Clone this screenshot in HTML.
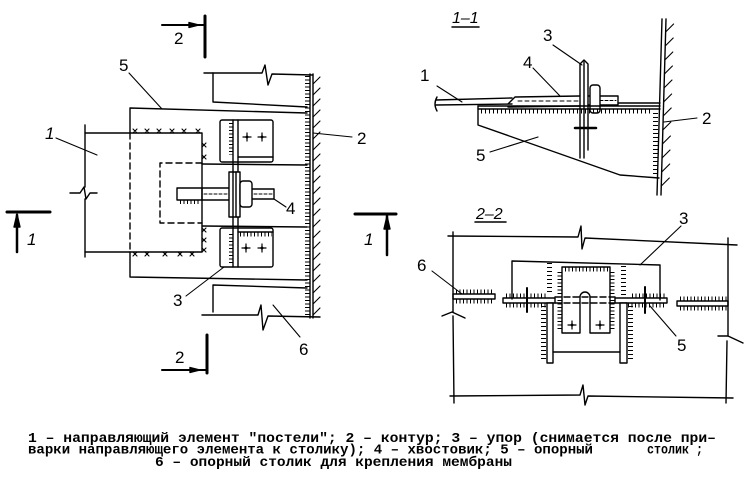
<!DOCTYPE html>
<html><head><meta charset="utf-8"><style>
html,body{margin:0;padding:0;background:#fff}
svg{display:block}
text{font-family:"Liberation Sans",sans-serif;fill:#000;stroke:none}
.t{font-family:"Liberation Mono","DejaVu Sans Mono",monospace;font-weight:bold;font-size:13.5px}
.n{font-size:17px}
</style></head><body>
<svg width="750" height="477" viewBox="0 0 750 477" xmlns="http://www.w3.org/2000/svg">
<g fill="none" stroke="#000" stroke-width="1.4" stroke-linecap="round" stroke-linejoin="round">

<!-- ========== LEFT PLAN VIEW ========== -->
<line x1="162" y1="25" x2="205" y2="25" stroke-width="2"/>
<polygon points="189,22.5 199,25 189,27.5" fill="#000"/>
<line x1="205" y1="16" x2="205" y2="57" stroke-width="3"/>
<polyline points="204,73 262,73 265,65 268,85 272,74 313,75"/>
<polyline points="213,73 213,102 307,107"/>
<line x1="310" y1="74" x2="310" y2="318"/>
<line x1="313" y1="74" x2="313" y2="318"/>
<path d="M313,84 l7,-7 M313,95 l7,-7 M313,106 l7,-7 M313,117 l7,-7 M313,128 l7,-7 M313,139 l7,-7 M313,150 l7,-7 M313,161 l7,-7 M313,172 l7,-7 M313,183 l7,-7 M313,194 l7,-7 M313,205 l7,-7 M313,216 l7,-7 M313,227 l7,-7 M313,238 l7,-7 M313,249 l7,-7 M313,260 l7,-7 M313,271 l7,-7 M313,282 l7,-7 M313,293 l7,-7 M313,304 l7,-7 M313,315 l7,-7" stroke-width="1.1"/>
<line x1="307.5" y1="76" x2="307.5" y2="315" stroke-width="5" stroke-dasharray="1 2.5" stroke-linecap="butt"/>
<polyline points="307,113 130,108 130,133"/>
<line x1="130" y1="133" x2="130" y2="252" stroke-dasharray="6 4"/>
<polyline points="130,252 130,277 307,280"/>
<line x1="85" y1="125" x2="85" y2="187"/>
<line x1="85" y1="199" x2="85" y2="257"/>
<polyline points="70,193 80,193 84,187 86,199 90,193 97,193"/>
<polyline points="85,133 202,133 202,252 85,252"/>
<polyline points="202,163 160,163 160,223 202,223" stroke-dasharray="6 4"/>
<line x1="202" y1="164" x2="307" y2="165"/>
<line x1="202" y1="226" x2="307" y2="227"/>
<g stroke-width="1.1">
<path d="M133,129 l4,4 m0,-4 l-4,4 M145,129 l4,4 m0,-4 l-4,4 M157,129 l4,4 m0,-4 l-4,4 M170,129 l4,4 m0,-4 l-4,4 M182,129 l4,4 m0,-4 l-4,4 M196,129 l4,4 m0,-4 l-4,4"/>
<path d="M202,143 l4,4 m0,-4 l-4,4 M202,155 l4,4 m0,-4 l-4,4"/>
<path d="M202,228 l4,4 m0,-4 l-4,4 M202,238 l4,4 m0,-4 l-4,4 M202,248 l4,4 m0,-4 l-4,4"/>
<path d="M133,252 l4,4 m0,-4 l-4,4 M145,252 l4,4 m0,-4 l-4,4 M163,252 l4,4 m0,-4 l-4,4 M178,252 l4,4 m0,-4 l-4,4 M190,252 l4,4 m0,-4 l-4,4"/>
</g>
<rect x="220" y="120" width="53" height="42" rx="2"/>
<line x1="238" y1="157" x2="273" y2="157"/>
<rect x="220" y="228" width="53" height="39" rx="2"/>
<line x1="238" y1="232" x2="273" y2="232"/>
<line x1="233" y1="120" x2="233" y2="267"/>
<line x1="238" y1="120" x2="238" y2="267"/>
<g stroke-width="4" stroke-dasharray="1 2.5" stroke-linecap="butt">
<line x1="231" y1="123" x2="231" y2="155"/>
<line x1="231" y1="234" x2="231" y2="263"/>
<line x1="240" y1="234.5" x2="272" y2="234.5"/>
<line x1="180" y1="202" x2="201" y2="202"/>
</g>
<g stroke-width="1.2">
<path d="M243,137 h8 M247,133 v8 M258,137 h8 M262,133 v8 M242,248 h8 M246,244 v8 M258,248 h8 M262,244 v8"/>
</g>
<g fill="#000" stroke="none">
<polygon points="247,135 249,137 247,139 245,137"/><polygon points="262,135 264,137 262,139 260,137"/>
<polygon points="246,246 248,248 246,250 244,248"/><polygon points="262,246 264,248 262,250 260,248"/>
</g>
<polyline points="230,188 177,188 177,200 230,200"/>
<polyline points="252,189 274,189 274,199 252,199"/>
<line x1="204" y1="194" x2="229" y2="194" stroke-dasharray="3 2" stroke-width="1"/>
<line x1="254" y1="194" x2="272" y2="194" stroke-dasharray="3 2" stroke-width="1"/>
<line x1="202" y1="188" x2="202" y2="200"/>
<rect x="229" y="172" width="11" height="45" fill="#fff"/>
<line x1="233" y1="172" x2="233" y2="217"/>
<line x1="236" y1="172" x2="236" y2="217"/>
<rect x="240" y="181" width="12" height="26" rx="3" fill="#fff"/>
<polyline points="307,288 213,285 213,312"/>
<polyline points="202,315 258,315 261,305 263,330 268,316 320,317"/>
<line x1="129" y1="73" x2="162" y2="109" stroke-width="1.1"/>
<line x1="56" y1="138" x2="97" y2="155" stroke-width="1.1"/>
<line x1="274" y1="199" x2="286" y2="207" stroke-width="1.1"/>
<line x1="313" y1="133" x2="352" y2="137" stroke-width="1.1"/>
<line x1="186" y1="296" x2="224" y2="267" stroke-width="1.1"/>
<line x1="273" y1="305" x2="300" y2="337" stroke-width="1.1"/>
<line x1="207" y1="335" x2="207" y2="373" stroke-width="3"/>
<line x1="162" y1="370" x2="207" y2="370" stroke-width="2"/>
<polygon points="190,367.5 200,370 190,372.5" fill="#000"/>
<line x1="7" y1="212" x2="50" y2="212" stroke-width="3"/>
<line x1="17" y1="215" x2="17" y2="252" stroke-width="2.5"/>
<polygon points="14,227 17,214 20,227" fill="#000"/>
<line x1="355" y1="214" x2="396" y2="214" stroke-width="3"/>
<line x1="387" y1="216" x2="387" y2="255" stroke-width="2.5"/>
<polygon points="384,229 387,216 390,229" fill="#000"/>

<!-- ========== SECTION 1-1 ========== -->
<line x1="452" y1="27" x2="479" y2="27" stroke-width="1.5"/>
<line x1="662" y1="19" x2="657" y2="195"/>
<line x1="666" y1="19" x2="661" y2="195"/>
<path d="M665.6,32 l8,-8 M665.2,46 l8,-8 M664.8,60 l8,-8 M664.4,74 l8,-8 M664,88 l8,-8 M663.6,102 l8,-8 M663.2,116 l8,-8 M662.8,130 l8,-8 M662.4,144 l8,-8 M662,158 l8,-8 M661.7,172 l8,-8 M661.3,186 l8,-8" stroke-width="1.1"/>
<line x1="436" y1="100" x2="512" y2="98"/>
<line x1="436" y1="105" x2="512" y2="104"/>
<path d="M437,97 Q433,104 437,111"/>
<polyline points="508,104 515,97 580,96"/>
<line x1="508" y1="107" x2="580" y2="106"/>
<line x1="518" y1="101" x2="578" y2="101" stroke-dasharray="4 3" stroke-width="1"/>
<polyline points="588,96 618,96 618,105 588,105"/>
<line x1="600" y1="100.5" x2="616" y2="100.5" stroke-dasharray="3 2" stroke-width="1"/>
<line x1="618" y1="103" x2="660" y2="103"/>
<path d="M580,158 V64 L584,60 L588,64 V150"/>
<line x1="584" y1="62" x2="584" y2="158"/>
<line x1="575" y1="128" x2="596" y2="128" stroke-width="2.5"/>
<rect x="590" y="85" width="10" height="28" rx="3" fill="#fff"/>
<line x1="478" y1="106" x2="660" y2="106"/>
<line x1="478" y1="109" x2="660" y2="109"/>
<line x1="481" y1="111.5" x2="652" y2="111.5" stroke-width="4" stroke-dasharray="1 3" stroke-linecap="butt"/>
<polyline points="478,106 478,125 620,175 659,178"/>
<line x1="655.5" y1="113" x2="655.5" y2="177" stroke-width="5" stroke-dasharray="1 3" stroke-linecap="butt"/>
<line x1="553" y1="45" x2="582" y2="65" stroke-width="1.1"/>
<line x1="533" y1="68" x2="560" y2="96" stroke-width="1.1"/>
<line x1="437" y1="86" x2="462" y2="102" stroke-width="1.1"/>
<line x1="664" y1="122" x2="697" y2="118" stroke-width="1.1"/>
<line x1="490" y1="152" x2="538" y2="137" stroke-width="1.1"/>

<!-- ========== SECTION 2-2 ========== -->
<line x1="475" y1="222" x2="506" y2="222" stroke-width="1.5"/>
<polyline points="448,236 578,237 581,226 582,249 585,238 737,245"/>
<line x1="453" y1="232" x2="453" y2="312"/>
<polyline points="442,316 452,312 465,318"/>
<line x1="453" y1="316" x2="454" y2="403"/>
<line x1="728" y1="238" x2="728" y2="336"/>
<polyline points="718,336 728,336 743,343"/>
<line x1="727" y1="341" x2="726" y2="403"/>
<polyline points="450,396 580,395 583,385 585,405 588,396 733,398"/>
<path d="M512,299 V261 L660,265 V300"/>
<path d="M562,267 V333 H580 V297 A5,5 0 0 1 590,297 V333 H610 V267 Z"/>
<g stroke-width="4" stroke-dasharray="1 2.5" stroke-linecap="butt">
<line x1="565" y1="269.5" x2="608" y2="269.5"/>
<line x1="559.5" y1="272" x2="559.5" y2="330"/>
<line x1="612.5" y1="272" x2="612.5" y2="330"/>
</g>
<g stroke-width="5" stroke-dasharray="1 3" stroke-linecap="butt">
<line x1="549.5" y1="263" x2="549.5" y2="295"/>
<line x1="623.5" y1="266" x2="623.5" y2="295"/>
<line x1="543.5" y1="306" x2="543.5" y2="361"/>
<line x1="630.5" y1="306" x2="630.5" y2="361"/>
</g>
<path d="M568,325 h8 M572,321 v8 M596,325 h8 M600,321 v8" stroke-width="1.2"/>
<g fill="#000" stroke="none">
<polygon points="572,323 574,325 572,327 570,325"/><polygon points="600,323 602,325 600,327 598,325"/>
</g>
<rect x="503" y="298" width="52" height="5"/>
<rect x="615" y="298" width="52" height="5"/>
<line x1="555" y1="297" x2="615" y2="297" stroke-dasharray="6 3"/>
<line x1="555" y1="303" x2="615" y2="303" stroke-dasharray="6 3"/>
<g stroke-width="4" stroke-dasharray="1 2.5" stroke-linecap="butt">
<line x1="506" y1="305.5" x2="546" y2="305.5"/>
<line x1="506" y1="295.5" x2="546" y2="295.5"/>
<line x1="628" y1="305.5" x2="665" y2="305.5"/>
<line x1="632" y1="295.5" x2="665" y2="295.5"/>
<line x1="456" y1="291.5" x2="494" y2="291.5"/>
<line x1="456" y1="301.5" x2="494" y2="301.5"/>
<line x1="680" y1="298.5" x2="727" y2="298.5"/>
<line x1="680" y1="308.5" x2="727" y2="308.5"/>
</g>
<line x1="527" y1="288" x2="527" y2="312" stroke-width="2"/>
<line x1="645" y1="287" x2="645" y2="313" stroke-width="2"/>
<rect x="547" y="303" width="6" height="60" fill="#fff"/>
<rect x="620" y="303" width="7" height="60" fill="#fff"/>
<line x1="553" y1="352" x2="620" y2="352"/>
<rect x="453" y="294" width="42" height="5"/>
<rect x="677" y="301" width="51" height="5"/>
<line x1="432" y1="271" x2="462" y2="294" stroke-width="1.1"/>
<line x1="681" y1="226" x2="640" y2="265" stroke-width="1.1"/>
<line x1="676" y1="336" x2="650" y2="306" stroke-width="1.1"/>
</g>

<!-- ========== LABELS ========== -->
<text class="n" x="174" y="44">2</text>
<text class="n" x="119" y="71">5</text>
<text class="n" x="45" y="139" font-style="italic">1</text>
<text class="n" x="286" y="214">4</text>
<text class="n" x="357" y="144">2</text>
<text class="n" x="173" y="306">3</text>
<text class="n" x="299" y="355">6</text>
<text class="n" x="175" y="363">2</text>
<text class="n" x="27" y="245" font-style="italic">1</text>
<text class="n" x="364" y="245" font-style="italic">1</text>

<text x="452" y="23" font-size="16" font-style="italic">1–1</text>
<text class="n" x="543" y="41">3</text>
<text class="n" x="523" y="68">4</text>
<text class="n" x="420" y="81">1</text>
<text class="n" x="702" y="124">2</text>
<text class="n" x="476" y="161">5</text>

<text x="476" y="219" font-size="16" font-style="italic">2–2</text>
<text class="n" x="417" y="271">6</text>
<text class="n" x="679" y="224">3</text>
<text class="n" x="677" y="351">5</text>

<text class="t" x="28" y="442" textLength="688" lengthAdjust="spacingAndGlyphs">1 – направляющий элемент "постели"; 2 – контур; 3 – упор (снимается после при–</text>
<text class="t" x="28" y="453.5" textLength="565" lengthAdjust="spacingAndGlyphs">варки направляющего элемента к столику); 4 – хвостовик; 5 – опорный</text>
<text class="t" x="647" y="453.5" textLength="56" lengthAdjust="spacingAndGlyphs">столик ;</text>
<text class="t" x="155" y="466" textLength="357" lengthAdjust="spacingAndGlyphs">6 – опорный столик для крепления мембраны</text>
</svg>
</body></html>
